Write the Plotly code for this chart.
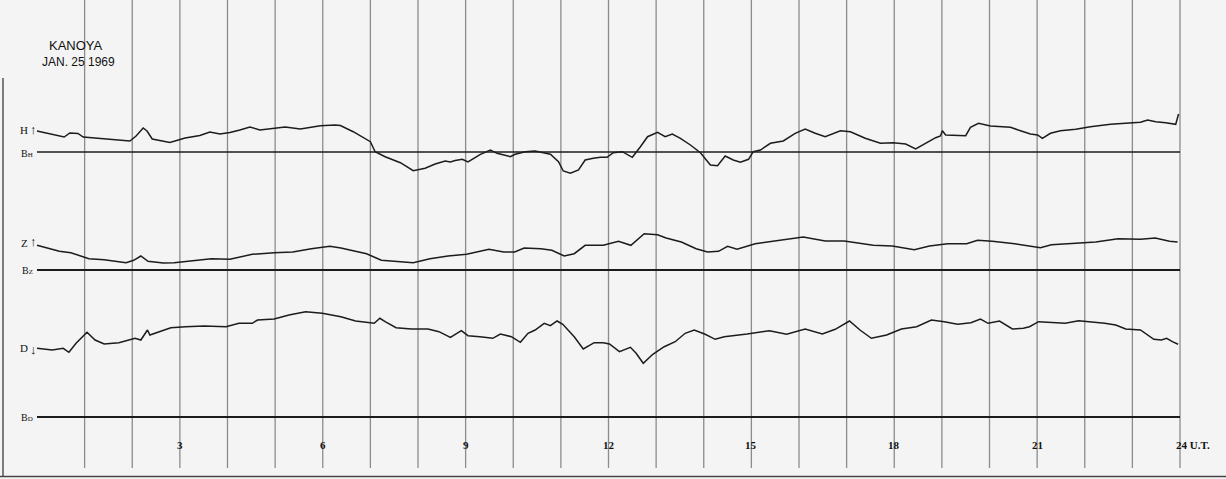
import plotly.graph_objects as go

# ---------------- data (hours UT, deflection above baseline in chart units) ----------------
h_hours = [0.00, 0.57, 0.69, 0.86, 0.97, 1.32, 1.95, 2.08, 2.23, 2.31, 2.42, 2.79, 3.11, 3.42,
           3.63, 3.84, 4.05, 4.26, 4.47, 4.68, 5.00, 5.21, 5.53, 5.74, 5.95, 6.26, 6.37, 6.64,
           7.00, 7.10, 7.31, 7.63, 7.90, 8.15, 8.36, 8.57, 8.68, 8.78, 8.93, 9.05, 9.31, 9.52,
           9.66, 9.94, 10.04, 10.25, 10.46, 10.78, 10.95, 11.05, 11.20, 11.37, 11.51, 11.68,
           11.83, 11.97, 12.10, 12.29, 12.50, 12.67, 12.82, 13.03, 13.19, 13.34, 13.51, 13.72,
           13.93, 14.14, 14.29, 14.45, 14.62, 14.77, 14.94, 15.04, 15.19, 15.40, 15.67, 15.92,
           16.13, 16.34, 16.55, 16.87, 17.08, 17.39, 17.71, 17.98, 18.24, 18.45, 18.66, 18.87,
           18.97, 19.01, 19.08, 19.29, 19.50, 19.60, 19.77, 20.02, 20.23, 20.44, 20.65, 20.86,
           21.01, 21.11, 21.28, 21.49, 21.81, 22.12, 22.54, 22.96, 23.17, 23.32, 23.49, 23.70,
           23.91, 23.97]
h_values = [21, 15, 19, 18.5, 15, 13.5, 11, 16, 24, 21, 13, 9.5, 14, 16.5,
            20, 18, 19.5, 22, 25, 22, 24, 25, 23, 24.7, 26.3, 27, 26.5, 20.3,
            10.3, 0.3, -4.7, -10.7, -18.7, -16.3, -12, -9, -10, -8.5, -7.3, -10, -2.3, 2,
            -1.3, -4.7, -2.3, 0.3, 1, -2.3, -9.7, -19, -21.3, -18, -8, -6.3,
            -5.3, -5.3, -0.7, 0.3, -5.3, 5.3, 15.3, 19.7, 15.3, 18, 13.7, 7,
            -0.7, -13, -13.7, -4, -8, -10.3, -7.3, 0.3, 2, 8.7, 11, 18.7,
            23, 18.7, 15.3, 21.3, 20.3, 13.7, 8.7, 9.3, 8, 3, 8.7, 14.3,
            16, 21.3, 17, 17, 16.3, 24.7, 28.7, 26, 25.3, 24.7, 21.3, 18,
            17, 13.7, 18.7, 21.3, 22.7, 25.3, 27.7, 29.3, 29.7, 32, 30.3, 29.3,
            27.7, 38]

z_hours = [0.00, 0.47, 0.71, 0.86, 1.09, 1.41, 1.87, 2.03, 2.18, 2.33, 2.65, 2.88, 3.28, 3.66,
           4.05, 4.52, 4.98, 5.37, 5.76, 6.15, 6.38, 6.92, 7.23, 7.54, 7.90, 8.25, 8.63, 9.02,
           9.49, 9.80, 10.03, 10.23, 10.58, 10.81, 11.07, 11.28, 11.51, 11.89, 12.21, 12.47,
           12.75, 13.03, 13.21, 13.53, 13.84, 14.08, 14.31, 14.50, 14.70, 15.08, 15.47, 16.09,
           16.55, 16.95, 17.56, 17.96, 18.42, 18.74, 19.12, 19.52, 19.75, 20.06, 20.53, 21.07,
           21.30, 21.76, 22.23, 22.70, 23.17, 23.48, 23.78, 23.95]
z_values = [24.7, 18.7, 17.3, 14.7, 11.3, 10.3, 7.3, 9.7, 14, 8.7, 7, 7.3, 9.7, 11.3,
            10.7, 15.7, 17.3, 18, 21.3, 23.7, 22, 16.3, 9.7, 8.7, 7.3, 11.3, 14, 15.7,
            20.7, 18, 18, 22, 21.3, 19.7, 14, 16.3, 24.7, 24.7, 28.7, 24.7,
            36.3, 35.3, 32, 28, 21.3, 18, 18.7, 23.7, 20.7, 26.3, 28.7, 33,
            29, 29, 24.7, 24, 20.3, 24, 26.3, 26.3, 29.7, 28.7, 26.3, 22.3,
            25.3, 26.3, 28, 31.3, 30.7, 32, 28.7, 28]

d_hours = [0.00, 0.32, 0.55, 0.67, 0.82, 1.05, 1.22, 1.41, 1.72, 1.95, 2.06, 2.18, 2.32, 2.37,
           2.57, 2.81, 3.12, 3.51, 3.97, 4.24, 4.52, 4.63, 4.98, 5.29, 5.64, 5.99, 6.38, 6.69,
           7.08, 7.20, 7.31, 7.54, 7.86, 8.21, 8.44, 8.68, 8.91, 9.05, 9.30, 9.57, 9.73, 9.96,
           10.15, 10.31, 10.46, 10.65, 10.78, 10.92, 11.04, 11.28, 11.47, 11.70, 11.89, 12.02,
           12.23, 12.46, 12.58, 12.73, 12.93, 13.17, 13.40, 13.61, 13.80, 14.03, 14.24, 14.43,
           14.91, 15.38, 15.74, 16.13, 16.49, 16.76, 17.06, 17.28, 17.52, 17.84, 18.15, 18.47,
           18.78, 19.05, 19.33, 19.61, 19.81, 19.97, 20.21, 20.48, 20.71, 20.84, 21.03, 21.31,
           21.59, 21.87, 22.10, 22.42, 22.65, 22.86, 23.17, 23.32, 23.45, 23.61, 23.72, 23.84,
           23.96]
d_values = [68.7, 67, 68.7, 64.7, 73.7, 84.7, 77, 73, 74.3, 77, 78.7, 77, 87, 82,
            85.3, 89.3, 90.3, 91, 90.3, 93.7, 93.7, 97, 98, 102, 105.3, 103.7, 100.3, 96,
            93.7, 98.7, 95.3, 89.3, 88, 88, 85.3, 79.7, 86.3, 81.3, 80.3, 78.7, 83, 80.3,
            74.7, 83.7, 87, 93.7, 91.3, 96, 92.7, 80.3, 68, 74.3, 74.3, 73,
            65.3, 69.7, 63.7, 53.7, 62.7, 70.3, 75.3, 83.7, 87, 82.7, 77.7, 80.3,
            83, 86.3, 82.7, 88, 83, 87.7, 96, 87, 78.7, 82, 88, 90.3,
            97, 95.3, 92.7, 94.3, 98, 93.7, 96, 88, 88.7, 90.3, 95.3, 94.7,
            93.7, 96.3, 95.3, 93.7, 92, 88, 87, 82, 77.7, 77, 78.7, 75.3,
            72.7]

tick_hours = [3, 6, 9, 12, 15, 18, 21]
tick_labels = ["3", "6", "9", "12", "15", "18", "21"]
grid_hours = list(range(1, 25))

# ---------------- layout constants ----------------
W, H = 1226, 479
X0_PX, X24_PX = 37, 1180
PX_PER_H = (X24_PX - X0_PX) / 24.0
x_range = [-X0_PX / PX_PER_H, 24 + (W - X24_PX) / PX_PER_H]


def ypx(py):
    """convert a pixel row (from top) to the y-axis value"""
    return H - py


BASE_H, BASE_Z, BASE_D = ypx(152), ypx(270), ypx(417)
INK = "#1c1c1c"
GRID = "#8c8c8c"
SERIF = "Liberation Serif, DejaVu Serif, serif"
NARROW = "Liberation Sans Narrow, Liberation Sans, Arial, sans-serif"

fig = go.Figure()
for hrs, vals, base in [(h_hours, h_values, BASE_H), (z_hours, z_values, BASE_Z), (d_hours, d_values, BASE_D)]:
    fig.add_trace(go.Scatter(x=hrs, y=[base + v for v in vals], mode="lines",
                             line=dict(color=INK, width=1.5), hoverinfo="skip", showlegend=False))

shapes = []
for g in grid_hours:
    shapes.append(dict(type="line", xref="x", yref="y", x0=g, x1=g, y0=ypx(468), y1=ypx(0),
                       line=dict(color=GRID, width=1.3), layer="below"))
for base, wd in [(BASE_H, 1.5), (BASE_Z, 2.2), (BASE_D, 2.0)]:
    shapes.append(dict(type="line", xref="x", yref="y", x0=0, x1=24, y0=base, y1=base,
                       line=dict(color=INK, width=wd)))
# photographic frame edges
shapes.append(dict(type="line", xref="paper", yref="paper", x0=3 / W, x1=3 / W, y0=1 - 476 / H, y1=1 - 78 / H,
                   line=dict(color="#555", width=1.5)))
shapes.append(dict(type="line", xref="paper", yref="paper", x0=0, x1=1, y0=1 - 476.5 / H, y1=1 - 476.5 / H,
                   line=dict(color="#444", width=1.5)))

ann = []


def label(text, px, py, size=11, font=SERIF, anchor="center"):
    ann.append(dict(text=text, xref="paper", yref="paper", x=px / W, y=1 - py / H, showarrow=False,
                    xanchor=anchor, yanchor="middle", font=dict(family=font, size=size, color="#111")))


label("KANOYA", 76, 45, size=13, font=NARROW)
label("JAN. 25 1969", 78, 62, size=12, font=NARROW)
label("H", 30, 130, size=11, anchor="right")
label("↑", 33, 129, size=13)
label("B<span style='font-size:7px'>H</span>", 35, 153, size=10, anchor="right")
label("Z", 30, 243, size=11, anchor="right")
label("↑", 33, 242, size=13)
label("B<span style='font-size:7px'>Z</span>", 35, 270, size=10, anchor="right")
label("D", 30, 348, size=11, anchor="right")
label("↓", 33, 349, size=13)
label("B<span style='font-size:7px'>D</span>", 35, 417, size=10, anchor="right")

for th, tt in zip(tick_hours, tick_labels):
    ann.append(dict(text="<b>" + tt + "</b>", xref="x", yref="y", x=th, y=ypx(445), showarrow=False,
                    xanchor="center", yanchor="middle", font=dict(family=SERIF, size=11, color="#111")))
ann.append(dict(text="<b>24 U.T.</b>", xref="x", yref="y", x=24, y=ypx(445), showarrow=False,
                xanchor="left", yanchor="middle", xshift=-6, font=dict(family=SERIF, size=11, color="#111")))

fig.update_layout(
    width=W, height=H, margin=dict(l=0, r=0, t=0, b=0),
    paper_bgcolor="#f4f4f4", plot_bgcolor="#f4f4f4",
    xaxis=dict(range=x_range, visible=False, fixedrange=True),
    yaxis=dict(range=[0, H], visible=False, fixedrange=True),
    shapes=shapes, annotations=ann, showlegend=False,
)

fig.write_html("out.html", config={"displayModeBar": False},
               post_script="document.body.style.margin='0';")
